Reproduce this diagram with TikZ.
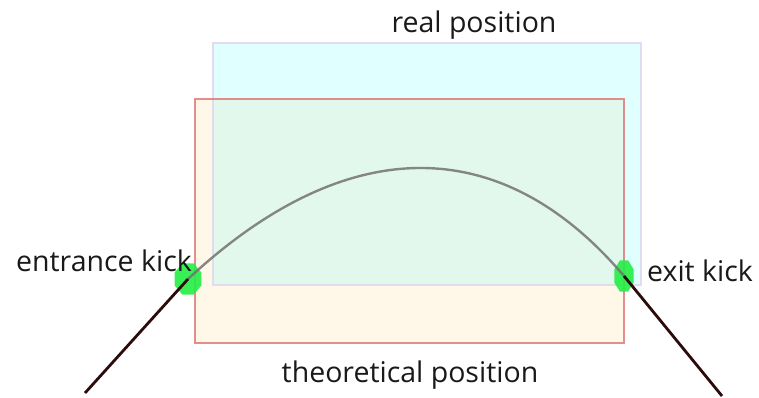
\documentclass[tikz,border=0pt]{standalone}
\usepackage{fontspec}
\setmainfont{Open Sans}
\usetikzlibrary{shapes.geometric}
\definecolor{realfill}{HTML}{E0FFFF}
\definecolor{theofill}{HTML}{FFF8E8}
\definecolor{bothfill}{HTML}{E3F8EC}
\definecolor{realline}{HTML}{E0D8F0}
\definecolor{theoline}{HTML}{E07A7A}
\definecolor{kickgreen}{HTML}{22EE44}
\definecolor{track}{HTML}{2B0B0B}
\begin{document}
\begin{tikzpicture}[x=1pt, y=-1pt, every node/.style={font=\fontsize{28.5}{32}\selectfont, text=black!90},
	kick/.style={regular polygon, regular polygon sides=8, fill=kickgreen, fill opacity=0.9, inner sep=0pt, minimum size=34, transform shape},
	orbit/.style={line width=2.8pt, color=track}]
	\useasboundingbox (0,0) rectangle (759,398);
	% positions
	\fill[theofill] (195,99) rectangle (624,343);
	\fill[realfill] (213,43) rectangle (641,285);
	\begin{scope}
		\clip (195,99) rectangle (624,343);
		\fill[bothfill] (213,43) rectangle (641,285);
	\end{scope}
	\draw[realline, line width=1.8pt, opacity=0.9] (213,43) rectangle (641,285);
	\draw[theoline, line width=1.8pt, opacity=0.85] (195,99) rectangle (624,343);
	\node (realpos) at (474,25) {real position};
	\node (theopos) at (410,375) {theoretical position};
	% kicks
	\node[kick, xscale=0.85] (entry) at (188,279) {};
	\node[kick, xscale=0.62, yscale=1.0] (exit) at (624,276) {};
	\node (entrylabel) at (104,261) {entrance kick};
	\node (exitlabel) at (700,271) {exit kick};
	\draw[gray!90!black, opacity=0.85, line width=2.4pt] (entry.center) .. controls (345,133) and (500,130) .. (exit.center);
	\coordinate (in) at (85,393);
	\coordinate (out) at (722,396);
	\draw[orbit] (in) -- (entry.center);
	\draw[orbit] (exit.center) -- (out);
\end{tikzpicture}
\end{document}
